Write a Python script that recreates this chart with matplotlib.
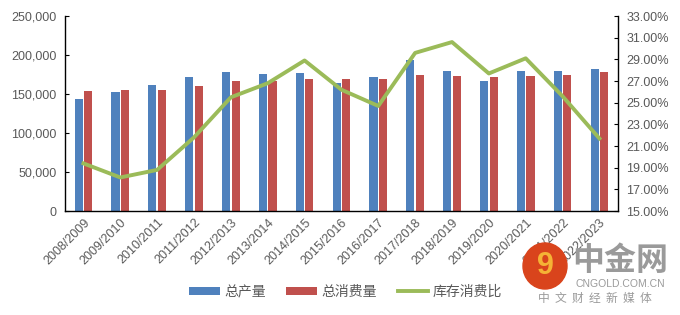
import matplotlib.pyplot as plt
import numpy as np
from matplotlib.patches import Ellipse
from matplotlib.ticker import FixedLocator, FuncFormatter, MultipleLocator

plt.rcParams["font.family"] = ["Liberation Sans", "Noto Sans CJK SC", "DejaVu Sans"]

seasons = [
    "2008/2009", "2009/2010", "2010/2011", "2011/2012", "2012/2013",
    "2013/2014", "2014/2015", "2015/2016", "2016/2017", "2017/2018",
    "2018/2019", "2019/2020", "2020/2021", "2021/2022", "2022/2023",
]
production = [143600, 153100, 161500, 171400, 177800, 175300, 176500, 164600,
              171400, 194100, 179100, 166300, 179500, 179500, 182000]
consumption = [153500, 154700, 155600, 159900, 166300, 166300, 168900, 169700,
               169700, 174400, 172700, 171400, 172700, 174400, 177800]
stock_ratio = [19.4, 18.1, 18.8, 21.8, 25.5, 26.8, 28.9, 26.2,
               24.7, 29.6, 30.6, 27.7, 29.1, 25.6, 21.7]
ratio_ticks = [15, 17, 19, 21, 23, 25, 27, 29, 31, 33]

BLUE = "#4F81BD"
RED = "#C0504D"
GREEN = "#9BBB59"
GRAY = "#595959"
MARK = "#9a9a9a"

fig = plt.figure(figsize=(6.8, 3.15), dpi=100)
ax = fig.add_axes([0.0956, 0.330, 0.813, 0.619])
ax2 = ax.twinx()

x = np.arange(len(seasons))
w = 0.22
b1 = ax.bar(x - 0.13, production, w, color=BLUE, label="总产量")
b2 = ax.bar(x + 0.13, consumption, w, color=RED, label="总消费量")
(ln,) = ax2.plot(x, stock_ratio, color=GREEN, lw=2.8, label="库存消费比")

ax.set_xlim(-0.5, len(seasons) - 0.5)
ax.set_ylim(0, 250000)
ax2.set_ylim(15, 33)
ax.yaxis.set_major_locator(MultipleLocator(50000))
ax2.yaxis.set_major_locator(FixedLocator(ratio_ticks))
ax.yaxis.set_major_formatter(FuncFormatter(lambda v, p: f"{int(v):,}"))
ax2.yaxis.set_major_formatter(FuncFormatter(lambda v, p: f"{v:.2f}%"))

ax.set_xticks(x)
ax.set_xticklabels(seasons, rotation=45, ha="right", rotation_mode="anchor")

for a in (ax, ax2):
    a.spines["top"].set_visible(False)
    for s in a.spines.values():
        s.set_color("black")
        s.set_linewidth(1.0)
    a.tick_params(labelsize=9, labelcolor=GRAY, length=3, color="black",
                  direction="in", pad=6)
ax.tick_params(axis="x", length=0, pad=4)
ax.spines["right"].set_visible(False)
ax2.spines["left"].set_visible(False)
ax2.spines["bottom"].set_visible(False)

leg = fig.legend([b1, b2, ln], ["总产量", "总消费量", "库存消费比"],
                 loc="center", bbox_to_anchor=(0.508, 0.073), ncol=3, frameon=False,
                 fontsize=10, handlelength=2.2, handleheight=0.55, columnspacing=1.5,
                 handletextpad=0.3)
for t in leg.get_texts():
    t.set_color(GRAY)
    t.set_fontfamily(["Noto Sans CJK SC", "DejaVu Sans"])

# site mark at lower right
fig.patches.append(Ellipse((545 / 680, 1 - 266 / 315), 44 / 680, 46 / 315,
                           transform=fig.transFigure, color="#D9441C", zorder=5))
fig.text(545 / 680, 1 - 266 / 315, "9", fontsize=22, color="#F5B335", ha="center",
         va="center", fontweight="bold", zorder=6)
fig.text(620 / 680, 1 - 261 / 315, "中金网", fontsize=23, color=MARK, ha="center",
         va="center", family=["Noto Sans CJK SC"], fontweight="bold")
fig.text(620 / 680, 1 - 284 / 315, "CNGOLD.COM.CN", fontsize=7.5, color=MARK,
         ha="center", va="center")
fig.text(595 / 680, 1 - 298 / 315, "中  文  财  经  新  媒  体", fontsize=8.5, color=MARK,
         ha="center", va="center", family=["Noto Sans CJK SC"])

fig.savefig("out.png", dpi=100)
